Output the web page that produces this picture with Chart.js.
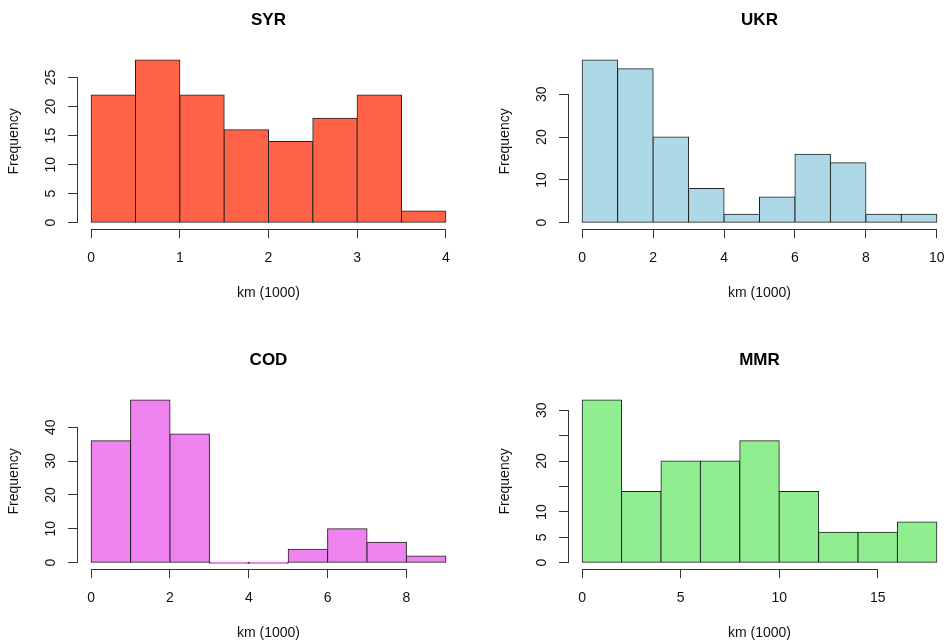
<!DOCTYPE html>
<html>
<head>
<meta charset="utf-8">
<script src="https://cdn.jsdelivr.net/npm/chart.js@4.4.1/dist/chart.umd.min.js"></script>
<style>
html, body { margin: 0; padding: 0; background: #fff; width: 946px; height: 643px; overflow: hidden; position: relative; }
canvas { position: absolute; }
</style>
</head>
<body>
<canvas id="syr" width="473" height="340" style="left:0px;top:0px"></canvas>
<canvas id="ukr" width="473" height="340" style="left:491px;top:0px"></canvas>
<canvas id="cod" width="473" height="340" style="left:0px;top:340px"></canvas>
<canvas id="mmr" width="473" height="340" style="left:491px;top:340px"></canvas>
<script>
// bin edges (km, thousands) and counts
const syrBreaks = [0, 0.5, 1, 1.5, 2, 2.5, 3, 3.5, 4];
const syrCounts = [22, 28, 22, 16, 14, 18, 22, 2];
const ukrBreaks = [0, 1, 2, 3, 4, 5, 6, 7, 8, 9, 10];
const ukrCounts = [38, 36, 20, 8, 2, 6, 16, 14, 2, 2];
const codBreaks = [0, 1, 2, 3, 4, 5, 6, 7, 8, 9];
const codCounts = [36, 48, 38, 0, 0, 4, 10, 6, 2];
const mmrBreaks = [0, 2, 4, 6, 8, 10, 12, 14, 16, 18];
const mmrCounts = [32, 14, 20, 20, 24, 14, 6, 6, 8];

// axis ticks
const syrXTicks = [0, 1, 2, 3, 4];
const syrYTicks = [0, 5, 10, 15, 20, 25];
const ukrXTicks = [0, 2, 4, 6, 8, 10];
const ukrYTicks = [0, 10, 20, 30];
const codXTicks = [0, 2, 4, 6, 8];
const codYTicks = [0, 10, 20, 30, 40];
const mmrXTicks = [0, 5, 10, 15];
const mmrYTicks = [0, 5, 10, 15, 20, 25, 30];
const mmrYNoLabel = [15, 25]; // ticks R draws without a label

const xTitle = 'km (1000)';
const yTitle = 'Frequency';

Chart.defaults.font.family = '"Liberation Sans", Arial, sans-serif';
Chart.defaults.color = '#111';

function align(p) { return Math.round(p - 0.5) + 0.5; }

// R style axis line: only from first to last tick
const axisLines = {
    id: 'axisLines',
    afterDraw(chart) {
        const ctx = chart.ctx;
        const ca = chart.chartArea;
        const x = chart.scales.x, y = chart.scales.y;
        ctx.save();
        ctx.strokeStyle = '#333';
        ctx.lineWidth = 1;
        ctx.lineCap = 'square';
        ctx.beginPath();
        const yb = align(ca.bottom);
        ctx.moveTo(align(x.getPixelForValue(x.ticks[0].value)), yb);
        ctx.lineTo(align(x.getPixelForValue(x.ticks[x.ticks.length - 1].value)), yb);
        const xl = align(ca.left);
        ctx.moveTo(xl, align(y.getPixelForValue(y.ticks[0].value)));
        ctx.lineTo(xl, align(y.getPixelForValue(y.ticks[y.ticks.length - 1].value)));
        ctx.stroke();
        ctx.restore();
    }
};

function hist(id, title, breaks, counts, xTicks, yTicks, color, noLabel) {
    const pts = [];
    for (let i = 0; i < counts.length; i++) {
        pts.push({ x: (breaks[i] + breaks[i + 1]) / 2, y: counts[i] });
    }
    const x0 = breaks[0], x1 = breaks[breaks.length - 1];
    const xe = (x1 - x0) * 0.04;
    const ymax = Math.max(...counts);
    const ye = ymax * 0.04;
    noLabel = noLabel || [];

    return new Chart(document.getElementById(id), {
        type: 'bar',
        data: {
            datasets: [{
                data: pts,
                backgroundColor: color,
                borderColor: '#222',
                borderWidth: 1,
                borderSkipped: false,
                inflateAmount: 0.5,
                minBarLength: 1,
                barPercentage: 1,
                categoryPercentage: 1
            }]
        },
        options: {
            responsive: false,
            animation: false,
            devicePixelRatio: 1,
            layout: { padding: { left: 0, right: 13, top: 0, bottom: 0 } },
            plugins: {
                legend: { display: false },
                tooltip: { enabled: false },
                title: {
                    display: true,
                    text: title,
                    fullSize: false,
                    color: '#000',
                    font: { size: 17, weight: 'bold' },
                    padding: { top: 9.9, bottom: 23.3 }
                }
            },
            scales: {
                x: {
                    type: 'linear',
                    offset: false,
                    min: x0 - xe,
                    max: x1 + xe,
                    afterBuildTicks: s => { s.ticks = xTicks.map(v => ({ value: v })); },
                    afterFit: s => { s.height = 110.8; },
                    border: { display: false },
                    grid: { offset: false, drawOnChartArea: false, drawTicks: true, tickLength: 9, color: '#333' },
                    ticks: {
                        autoSkip: false,
                        maxRotation: 0,
                        padding: 12,
                        font: { size: 14 },
                        callback: v => String(v)
                    },
                    title: {
                        display: true,
                        text: xTitle,
                        font: { size: 14 },
                        padding: { top: 0, bottom: 38.6 }
                    }
                },
                y: {
                    type: 'linear',
                    min: -ye,
                    max: ymax + ye,
                    afterBuildTicks: s => { s.ticks = yTicks.map(v => ({ value: v })); },
                    afterFit: s => { s.width = 77; },
                    border: { display: false },
                    grid: { drawOnChartArea: false, drawTicks: true, tickLength: 9, color: '#333' },
                    ticks: {
                        autoSkip: false,
                        minRotation: 90,
                        maxRotation: 90,
                        crossAlign: 'center',
                        padding: 9,
                        font: { size: 14 },
                        callback: v => noLabel.includes(v) ? '' : String(v)
                    },
                    title: {
                        display: true,
                        text: yTitle,
                        font: { size: 14 },
                        padding: { top: 6, bottom: 0 }
                    }
                }
            }
        },
        plugins: [axisLines]
    });
}

hist('syr', 'SYR', syrBreaks, syrCounts, syrXTicks, syrYTicks, '#FF6347');
hist('ukr', 'UKR', ukrBreaks, ukrCounts, ukrXTicks, ukrYTicks, '#ADD8E6');
hist('cod', 'COD', codBreaks, codCounts, codXTicks, codYTicks, '#EE82EE');
hist('mmr', 'MMR', mmrBreaks, mmrCounts, mmrXTicks, mmrYTicks, '#90EE90', mmrYNoLabel);
</script>
</body>
</html>
